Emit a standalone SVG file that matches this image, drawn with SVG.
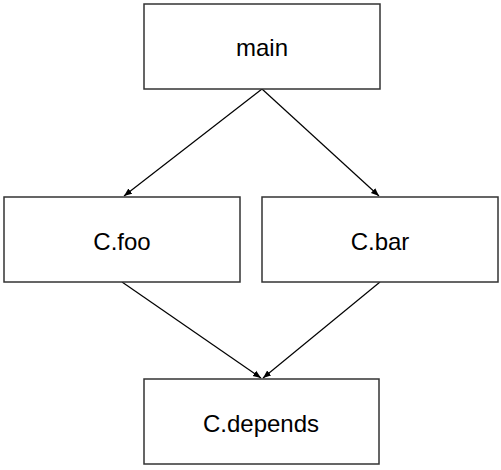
<svg xmlns="http://www.w3.org/2000/svg" width="501" height="470" viewBox="0 0 501 470">
<style>
.box{fill:#fff;stroke:#333;stroke-width:1.5}
.lbl{font-family:"Liberation Sans","Noto Sans",sans-serif;font-size:24px;fill:#000;text-anchor:middle}
.edge{stroke:#000;stroke-width:1.2;fill:none;marker-end:url(#ah)}
</style>
<defs>
<marker id="ah" viewBox="0 0 10 10" refX="10" refY="5" markerWidth="8" markerHeight="8" markerUnits="userSpaceOnUse" orient="auto">
<path d="M0,1 L10,5 L0,9 Z" fill="#000"/>
</marker>
</defs>
<g id="edges">
<line class="edge" x1="262" y1="89" x2="124" y2="196"/>
<line class="edge" x1="262" y1="89" x2="379" y2="196"/>
<line class="edge" x1="122" y1="282" x2="261" y2="378"/>
<line class="edge" x1="380" y1="282" x2="263" y2="378"/>
</g>
<g id="main"><rect class="box" x="144" y="4" width="236" height="85"/><text class="lbl" x="262" y="56">main</text></g>
<g id="foo"><rect class="box" x="4" y="197" width="236" height="85"/><text class="lbl" x="122" y="250">C.foo</text></g>
<g id="bar"><rect class="box" x="262" y="197" width="236" height="85"/><text class="lbl" x="380" y="250">C.bar</text></g>
<g id="depends"><rect class="box" x="144" y="379" width="235" height="85"/><text class="lbl" x="261" y="432">C.depends</text></g>
</svg>
